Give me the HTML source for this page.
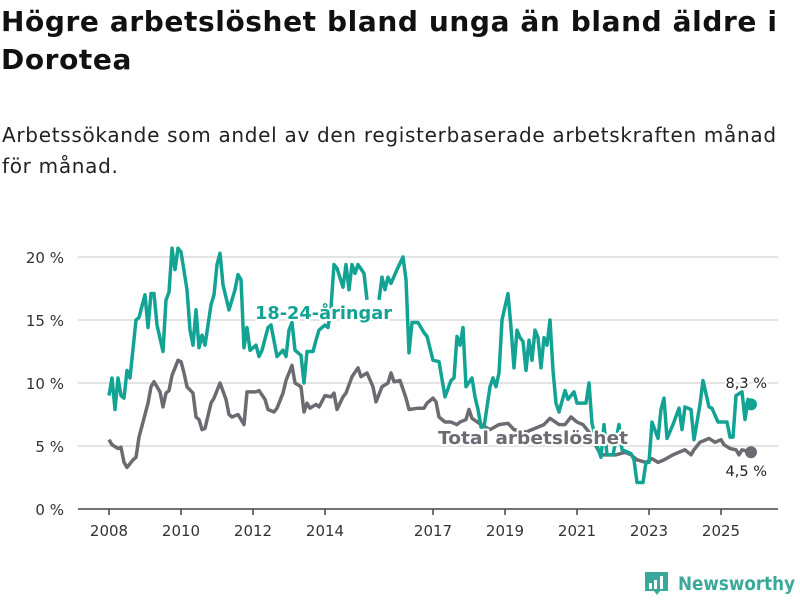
<!DOCTYPE html>
<html><head><meta charset="utf-8"><style>
body{margin:0;background:#fff;width:800px;height:600px;overflow:hidden;font-family:"DejaVu Sans","Liberation Sans",sans-serif;color:#111}
h1{position:absolute;left:1px;top:3px;margin:0;font-size:28px;line-height:38px;font-weight:bold;width:800px;letter-spacing:0.6px;white-space:nowrap}
p{position:absolute;left:2px;top:120px;margin:0;font-size:20px;line-height:31px;color:#222;width:800px;letter-spacing:0.7px;white-space:nowrap}
svg{position:absolute;left:0;top:0}
</style></head><body>
<h1>Högre arbetslöshet bland unga än bland äldre i<br>Dorotea</h1>
<p>Arbetssökande som andel av den registerbaserade arbetskraften månad<br>för månad.</p>
<svg id="chart" width="800" height="600"></svg>
<script>
// months since Jan 2008
const youthMonths=[0,1,2,3,4,5,6,7,9,10,12,13,14,15,16,18,19,20,21,22,23,24,26,27,28,29,30,31,32,34,35,36,37,38,40,42,43,44,45,46,47,49,50,51,53,54,56,58,59,60,61,62,64,65,66,68,69,70,72,73,74,75,76,78,79,80,81,82,83,85,86,87,90,91,92,93,94,96,98,99,100,101,103,105,106,108,110,112,114,115,116,117,118,119,121,122,123,124,125,127,128,129,130,131,133,134,135,136,137,138,139,140,141,142,143,144,145,146,147,148,149,150,152,153,155,156,158,159,160,161,163,164,165,166,168,170,171,174,175,176,178,179,180,181,183,184,185,186,188,190,191,192,194,195,197,198,200,201,203,206,207,208,209,211,212,213,214];
const youthValues=[9.0,10.4,7.9,10.4,9.0,8.8,11.0,10.4,15.0,15.2,17.0,14.4,17.1,17.1,14.6,12.5,16.6,17.2,20.7,19.0,20.7,20.4,17.4,14.2,13.0,15.8,12.8,13.8,13.0,16.2,17.0,19.4,20.3,17.8,15.8,17.4,18.6,18.2,12.8,14.4,12.6,13.0,12.1,12.6,14.4,14.6,12.1,12.6,12.1,14.2,14.8,12.6,12.2,10.0,12.5,12.5,13.4,14.2,14.6,14.4,16.0,19.4,19.1,17.6,19.4,17.4,19.4,18.7,19.4,18.7,16.6,null,16.6,18.4,17.4,18.4,17.9,19.0,20.0,18.2,12.4,14.8,14.8,14.0,13.7,11.8,11.7,8.9,10.2,10.4,13.7,13.0,14.4,9.7,10.4,8.9,7.9,6.5,6.5,9.7,10.4,9.7,10.8,15.0,17.1,14.4,11.2,14.2,13.6,13.3,11.0,13.4,11.8,14.2,13.6,11.2,13.6,13.0,15.0,11.0,8.4,7.7,9.4,8.7,9.3,8.4,8.4,8.4,10.0,6.8,4.8,4.1,6.7,4.3,4.3,6.7,4.7,4.4,3.9,2.1,2.1,3.7,3.7,6.9,5.6,7.9,8.8,5.6,6.7,8.0,6.3,8.1,7.9,5.5,8.3,10.2,8.1,8.0,6.9,6.9,5.7,5.7,9.0,9.3,7.1,8.7,8.3];
const totalMonths=[0,1,3,4,5,6,8,9,10,13,14,15,17,18,19,20,21,23,24,25,26,28,29,30,31,32,34,35,37,39,40,41,43,44,45,46,49,50,52,53,55,56,58,59,61,62,64,65,66,67,69,70,72,74,75,76,78,79,81,83,84,86,88,89,91,93,94,95,97,99,100,103,105,106,108,109,110,112,114,116,117,119,120,121,124,127,130,133,135,139,142,145,147,150,152,154,156,158,160,163,164,169,172,174,176,179,181,183,185,188,190,192,194,195,197,199,200,202,204,205,207,209,210,211,214];
const totalValues=[5.5,5.1,4.8,4.9,3.7,3.3,3.9,4.1,5.7,8.4,9.7,10.1,9.3,8.1,9.2,9.4,10.6,11.8,11.7,10.8,9.7,9.2,7.3,7.1,6.3,6.4,8.4,8.8,10.0,8.7,7.5,7.3,7.5,7.1,6.7,9.3,9.3,9.4,8.7,7.9,7.7,8.0,9.2,10.2,11.4,10.0,9.7,7.7,8.4,8.0,8.3,8.1,9.0,8.9,9.2,7.9,8.9,9.2,10.5,11.2,10.5,10.8,9.7,8.5,9.7,10.0,10.8,10.1,10.2,8.8,7.9,8.0,8.0,8.4,8.8,8.5,7.3,6.9,6.9,6.7,6.9,7.1,7.9,7.2,6.7,6.3,6.7,6.8,6.3,6.1,6.4,6.7,7.2,6.7,6.7,7.3,6.9,6.7,6.1,4.7,4.3,4.3,4.5,4.3,3.9,3.7,4.0,3.7,3.9,4.3,4.5,4.7,4.3,4.7,5.3,5.5,5.6,5.3,5.5,5.1,4.8,4.7,4.3,4.7,4.5];
const yTicks=[0,5,10,15,20];
const yTickLabels=["0 %","5 %","10 %","15 %","20 %"];
const xTickYears=[2008,2010,2012,2014,2017,2019,2021,2023,2025];

const NS="http://www.w3.org/2000/svg";
const svg=document.getElementById('chart');
const x=m=>109+m*3;
const xYear=yr=>x((yr-2008)*12);
const y=v=>509-v*12.6;
function mk(tag,attrs,parent){const e=document.createElementNS(NS,tag);for(const k in attrs)e.setAttribute(k,attrs[k]);(parent||svg).appendChild(e);return e;}
const FONT='"DejaVu Sans","Liberation Sans",sans-serif';
yTicks.forEach((t,i)=>{
  if(t>0){const g=mk('line',{x1:78,x2:778,y1:y(t),y2:y(t),stroke:'#dcdcdc','stroke-width':1.5});
  
  }
  const l=mk('text',{x:64,y:y(t)+6,'text-anchor':'end','font-size':15,fill:'#333','font-family':FONT});
  l.textContent=yTickLabels[i];
  
  
});
const ax=mk('line',{x1:78,x2:778,y1:509,y2:509,stroke:'#444','stroke-width':1.5});


xTickYears.forEach(yr=>{
  const tk=mk('line',{x1:xYear(yr),x2:xYear(yr),y1:509,y2:515,stroke:'#444','stroke-width':1.5});
  
  
  const l=mk('text',{x:xYear(yr),y:536,'text-anchor':'middle','font-size':15,fill:'#333','font-family':FONT});
  l.textContent=yr;
  
  
});
function pathFor(ms,vs){let d='',pen=false;ms.forEach((m,i)=>{const v=vs[i];if(v==null){pen=false;return;}d+=(pen?'L':'M')+x(m)+','+y(v);pen=true;});return d;}
const tp=mk('path',{d:pathFor(totalMonths,totalValues),fill:'none',stroke:'#6d6b72','stroke-width':3.5,'stroke-linejoin':'round'});


const yp=mk('path',{d:pathFor(youthMonths,youthValues),fill:'none',stroke:'#13a394','stroke-width':3.5,'stroke-linejoin':'round'});


const lt=totalValues.length-1, ly=youthValues.length-1;
const d1=mk('circle',{cx:x(youthMonths[ly]),cy:y(youthValues[ly]),r:6,fill:'#13a394'});


const d2=mk('circle',{cx:x(totalMonths[lt]),cy:y(totalValues[lt]),r:6,fill:'#6d6b72'});


function lab(txt,xx,yy,fill,size,weight,anchor,name,len){const a={x:xx,y:yy,fill:fill,'font-size':size,'font-weight':weight,'text-anchor':anchor,'font-family':FONT,stroke:'#fff','stroke-width':4,'paint-order':'stroke','stroke-linejoin':'round'};if(len){a.textLength=len;a.lengthAdjust='spacingAndGlyphs';}const t=mk('text',a);t.textContent=txt;


return t;}
lab('18-24-åringar',255,319,'#13a394',18,'bold','start','youth-series-label',137);
lab('Total arbetslöshet',438,444,'#6d6b72',18,'bold','start','total-series-label',190);
lab(youthValues[ly].toFixed(1).replace('.',',')+' %',767,388,'#222',14.5,'normal','end','youth-end-value');
lab(totalValues[lt].toFixed(1).replace('.',',')+' %',767,476,'#222',14.5,'normal','end','total-end-value');
// logo
const g=mk('g',{});


mk('path',{d:'M645,572 h23 v19 h-8 l-3,4 l-3,-4 h-9 z',fill:'#3aa89a'},g);
mk('rect',{x:649,y:583,width:3,height:6,fill:'#fff'},g);
mk('rect',{x:654,y:580,width:3,height:9,fill:'#fff'},g);
mk('rect',{x:660,y:576,width:3,height:13,fill:'#fff'},g);
const lt2=mk('text',{x:678,y:590,fill:'#3aa89a','font-size':19,'font-weight':'bold','font-family':FONT,textLength:117,lengthAdjust:'spacingAndGlyphs'},g);
lt2.textContent='Newsworthy';
</script>
</body></html>
